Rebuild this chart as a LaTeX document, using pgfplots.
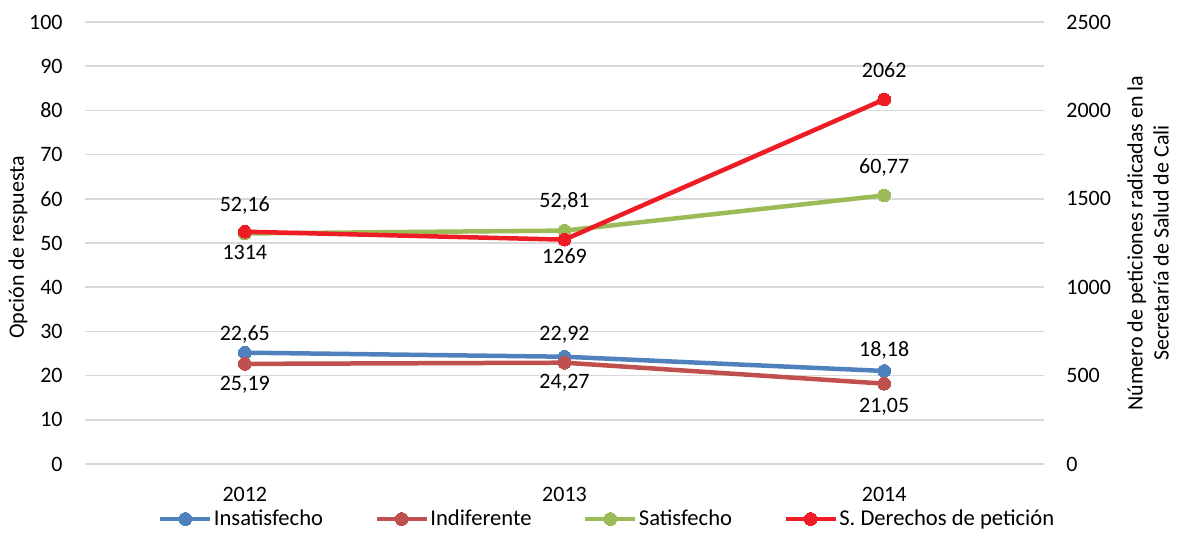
\documentclass[border=0pt]{standalone}
\usepackage{fontspec}
\setmainfont{Carlito}
\usepackage{pgfplots}
\pgfplotsset{compat=1.18}
\definecolor{cBlue}{HTML}{4F81BD}
\definecolor{cBrown}{HTML}{C0504D}
\definecolor{cGreen}{HTML}{9BBB59}
\definecolor{cRed}{HTML}{EE1C25}
\definecolor{cGrid}{HTML}{D9D9D9}
\begin{document}
\fontsize{11}{13}\selectfont
\begin{tikzpicture}
\useasboundingbox (-42.5pt,-34pt) rectangle (549.5pt,232pt);
\pgfplotsset{
  base/.style={
    scale only axis, width=479.5pt, height=221pt,
    xmin=-0.5, xmax=2.5, ymin=0,
    font=\fontsize{11}{13}\selectfont,
    /pgf/number format/assume math mode=true,
    /pgf/number format/1000 sep={},
    major tick length=0pt,
    axis line style={draw=none},
    clip=false,
  },
  ser/.style={line width=2.25pt, mark=*, mark size=3.2pt, mark options={solid, line width=0pt}},
}
\begin{axis}[base,
  ymax=100, ytick={0,10,...,100},
  ymajorgrids, grid style={cGrid, line width=0.75pt},
  xtick={0,1,2}, xticklabels={2012,2013,2014},
  xticklabel style={anchor=north, inner sep=0pt, yshift=-11.5pt},
  yticklabel style={anchor=east, inner sep=0pt, xshift=-11pt},
  ylabel={Opción de respuesta},
  ylabel style={at={(axis description cs:-0.0699,0.49)}, anchor=center},
  legend columns=4,
  legend style={at={(axis description cs:0.0761,-0.1244)}, anchor=west,
    draw=none, inner sep=0pt, outer sep=0pt, font=\fontsize{11.3}{13}\selectfont,
    /tikz/every even column/.append style={column sep=25pt},
    nodes={inner sep=0.7pt}},
  legend image code/.code={\draw[#1, mark=none] (0pt,0pt) -- (25pt,0pt); \draw[#1] plot coordinates {(12.5pt,0pt)};},
]
\addplot[ser, color=cBlue] coordinates {(0,25.19) (1,24.27) (2,21.05)};
\addlegendentry{Insatisfecho}
\addplot[ser, color=cBrown] coordinates {(0,22.65) (1,22.92) (2,18.18)};
\addlegendentry{Indiferente}
\addplot[ser, color=cGreen] coordinates {(0,52.16) (1,52.81) (2,60.77)};
\addlegendentry{Satisfecho}
\addlegendimage{ser, color=cRed}
\addlegendentry{S. Derechos de petición}
% labels
\node[yshift=14pt] at (axis cs:0,52.16) {52,16};
\node[yshift=14.5pt] at (axis cs:1,52.81) {52,81};
\node[yshift=14pt] at (axis cs:2,60.77) {60,77};
\node[yshift=9pt] at (axis cs:0,25.19) {22,65};
\node[yshift=11pt] at (axis cs:1,24.27) {22,92};
\node[yshift=10.5pt] at (axis cs:2,21.05) {18,18};
\node[yshift=-10.5pt] at (axis cs:0,22.65) {25,19};
\node[yshift=-10pt] at (axis cs:1,22.92) {24,27};
\node[yshift=-11.5pt] at (axis cs:2,18.18) {21,05};
\end{axis}
\begin{axis}[base,
  ymax=2500, ytick={0,500,...,2500},
  axis y line*=right, axis x line=none,
  yticklabel style={anchor=west, inner sep=0pt, xshift=11pt},
  ylabel={Número de peticiones radicadas en la\\Secretaría de Salud de Cali},
  ylabel style={at={(axis description cs:1.1085,0.5)}, anchor=center, align=center},
]
\addplot[ser, color=cRed] coordinates {(0,1314) (1,1269) (2,2062)};
\node[yshift=-10.5pt] at (axis cs:0,1314) {1314};
\node[yshift=-8.5pt] at (axis cs:1,1269) {1269};
\node[yshift=14.5pt] at (axis cs:2,2062) {2062};
\end{axis}
\end{tikzpicture}
\end{document}
